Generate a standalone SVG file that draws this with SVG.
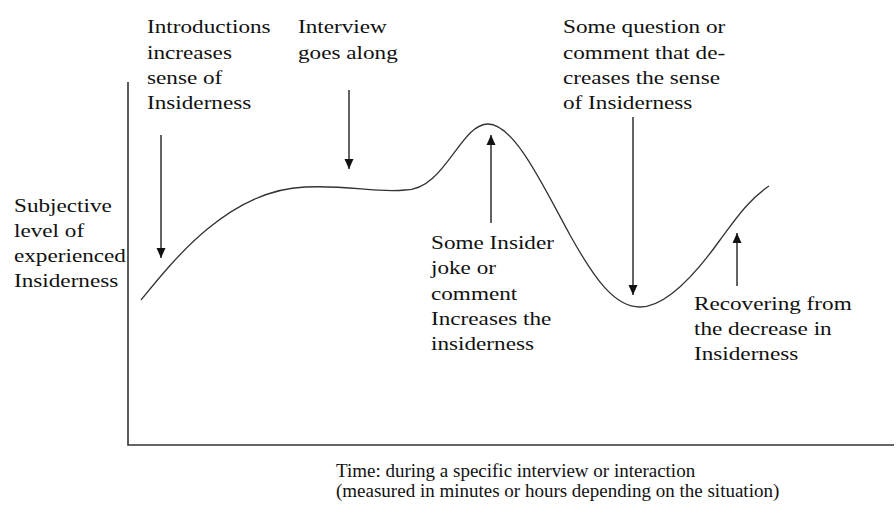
<svg xmlns="http://www.w3.org/2000/svg" width="896" height="508" viewBox="0 0 896 508">
<style>
.axis{stroke:#333;stroke-width:1.6;fill:none}
.curve{stroke:#333;stroke-width:1.3;fill:none}
.arr{stroke:#222;stroke-width:1.4;fill:none;marker-end:url(#ah)}
.lbl{font-family:"Liberation Serif","Times New Roman",serif;font-size:19px;fill:#111}
.cap{font-family:"Liberation Serif","Times New Roman",serif;font-size:19px;fill:#111}
</style>
<defs>
<marker id="ah" viewBox="0 0 10 10" refX="10" refY="5" markerWidth="10" markerHeight="10" markerUnits="userSpaceOnUse" orient="auto">
<path d="M0,0.5 L10,5 L0,9.5 Z" fill="#111"/>
</marker>
</defs>
<rect width="896" height="508" fill="#fff"/>
<g id="axes">
<path class="axis" d="M128,82 L128,445 L894,445"/>
</g>
<g id="curve">
<path class="curve" d="M141,300 C175,258 230,190 305,187 C350,185 375,193 405,190 C445,190 460,124 488,124 C515,124 545,190 570,235 C595,280 615,307 640,307 C665,307 695,275 720,240 C735,220 748,200 769,186"/>
</g>
<g id="connectors">
<path class="arr" d="M161,135 L161,258"/>
<path class="arr" d="M349,90 L349,169"/>
<path class="arr" d="M491,223 L491,135"/>
<path class="arr" d="M633,117 L633,295"/>
<path class="arr" d="M737,286 L737,233"/>
</g>
<g id="ylabel" class="lbl" transform="translate(14,0) scale(1.22,1)">
<text x="0" y="212">Subjective</text>
<text x="0" y="237">level of</text>
<text x="0" y="262">experienced</text>
<text x="0" y="287">Insiderness</text>
</g>
<g id="introductions" class="lbl" transform="translate(147,0) scale(1.22,1)">
<text x="0" y="33">Introductions</text>
<text x="0" y="59">increases</text>
<text x="0" y="84">sense of</text>
<text x="0" y="109">Insiderness</text>
</g>
<g id="interview" class="lbl" transform="translate(298,0) scale(1.22,1)">
<text x="0" y="33">Interview</text>
<text x="0" y="59">goes along</text>
</g>
<g id="question" class="lbl" transform="translate(563,0) scale(1.22,1)">
<text x="0" y="33">Some question or</text>
<text x="0" y="59">comment that de-</text>
<text x="0" y="84">creases the sense</text>
<text x="0" y="109">of Insiderness</text>
</g>
<g id="joke" class="lbl" transform="translate(431,0) scale(1.22,1)">
<text x="0" y="249">Some Insider</text>
<text x="0" y="274">joke or</text>
<text x="0" y="300">comment</text>
<text x="0" y="325">Increases the</text>
<text x="0" y="350">insiderness</text>
</g>
<g id="recovering" class="lbl" transform="translate(694,0) scale(1.22,1)">
<text x="0" y="310">Recovering from</text>
<text x="0" y="335">the decrease in</text>
<text x="0" y="360">Insiderness</text>
</g>
<g id="xlabel" class="cap">
<text x="336" y="477">Time: during a specific interview or interaction</text>
<text x="336" y="497">(measured in minutes or hours depending on the situation)</text>
</g>
</svg>
